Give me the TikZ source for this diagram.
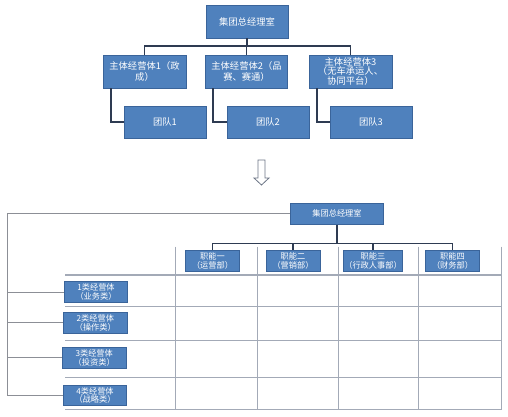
\documentclass[tikz,border=0pt]{standalone}
\usepackage{fontspec}
\newfontfamily\cjk{Noto Sans CJK SC}
\definecolor{boxfill}{HTML}{4F81BD}
\definecolor{boxline}{HTML}{3A649A}
\definecolor{darkconn}{HTML}{2E3B52}
\definecolor{grayconn}{HTML}{8C8F96}
\definecolor{gridline}{HTML}{A3AAB7}
\begin{document}
\begin{tikzpicture}[x=1pt,y=-1pt,
  bluebox/.style={draw=boxline,line width=0.6pt,fill=boxfill,text=white,inner sep=1pt,align=center,font=\cjk\fontsize{9.3}{10.6}\selectfont},
  bigbox/.style={bluebox,minimum width=82pt,minimum height=33pt},
  smallbox/.style={bluebox,minimum width=54pt,minimum height=21.5pt,font=\cjk\fontsize{8.2}{8.8}\selectfont},
  rowbox/.style={bluebox,minimum width=63.5pt,minimum height=20.5pt,font=\cjk\fontsize{8.2}{8.8}\selectfont},
  topconn/.style={draw=darkconn,line width=1.7pt},
  leftconn/.style={draw=grayconn,line width=1pt},
  gridl/.style={draw=gridline,line width=1.1pt}]
\useasboundingbox (0,0) rectangle (508,416);
\fill[white] (0,0) rectangle (508,416);

% ---------- top chart ----------
\node[bigbox] (g) at (247,21.5) {集团总经理室};
\node[bigbox,minimum width=83pt] (a1) at (144.5,71.5) {主体经营体1（政\\成）};
\node[bigbox] (a2) at (246.5,71.5) {主体经营体2（品\\赛、赛通）};
\node[bigbox,minimum width=83pt,font=\cjk\fontsize{9.3}{9.8}\selectfont] (a3) at (350.5,71.5) {主体经营体3\\（无车承运人、\\协同平台）};
\node[bigbox,minimum height=32pt] (t1) at (165,122) {团队1};
\node[bigbox,minimum height=32pt] (t2) at (268,122) {团队2};
\node[bigbox,minimum height=32pt] (t3) at (371,122) {团队3};

\draw[topconn] (g.south) -- ++(0,8) coordinate (bus);
\draw[topconn] (a1.north) |- (bus) -| (a3.north);
\draw[topconn] (a2.north) -- (a2.north |- bus);
\draw[topconn] ([xshift=8pt]a1.south west) |- (t1.west);
\draw[topconn] ([xshift=8pt]a2.south west) |- (t2.west);
\draw[topconn] ([xshift=8pt]a3.south west) |- (t3.west);

% ---------- arrow ----------
\draw[draw=darkconn!70,line width=0.8pt,line join=miter]
  (258,160) -- (265,160) -- (265,178) -- (269,178) -- (261.5,185) -- (254,178) -- (258,178) -- cycle;

% ---------- grid ----------
\foreach \x in {175.7,257.7,338.3,418.3,501.7}
  \draw[gridl] (\x,246.7) -- (\x,409.3);
\foreach \y in {275,306.7,340.7,377.7,409.3}
  \draw[gridl] (65,\y) -- (501.7,\y);

% ---------- bottom chart ----------
\node[smallbox,minimum width=93pt,minimum height=21pt] (G) at (337,213.8) {集团总经理室};
\node[smallbox] (f1) at (212.5,260.8) {职能一\\（运营部）};
\node[smallbox] (f2) at (293,260.8) {职能二\\（营销部）};
\node[smallbox] (f3) at (373,260.8) {职能三\\（行政人事部）};
\node[smallbox] (f4) at (452.5,260.8) {职能四\\（财务部）};

\node[rowbox] (r1) at (96,292) {1类经营体\\（业务类）};
\node[rowbox] (r2) at (95.3,322.7) {2类经营体\\（操作类）};
\node[rowbox] (r3) at (94.2,357.8) {3类经营体\\（投资类）};
\node[rowbox] (r4) at (95,395.5) {4类经营体\\（战略类）};

\draw[topconn,line width=1.4pt] (G.south) -- ++(0,19) coordinate (bus2);
\draw[topconn,line width=1.4pt] (f1.north) |- (bus2) -| (f4.north);
\draw[topconn,line width=1.4pt] (f2.north) -- (f2.north |- bus2);
\draw[topconn,line width=1.4pt] (f3.north) -- (f3.north |- bus2);

\coordinate (lt) at (7,213.8);
\draw[leftconn] (G.west) -- (lt) |- (r4.west);
\draw[leftconn] (lt |- r1.west) -- (r1.west);
\draw[leftconn] (lt |- r2.west) -- (r2.west);
\draw[leftconn] (lt |- r3.west) -- (r3.west);
\end{tikzpicture}
\end{document}
